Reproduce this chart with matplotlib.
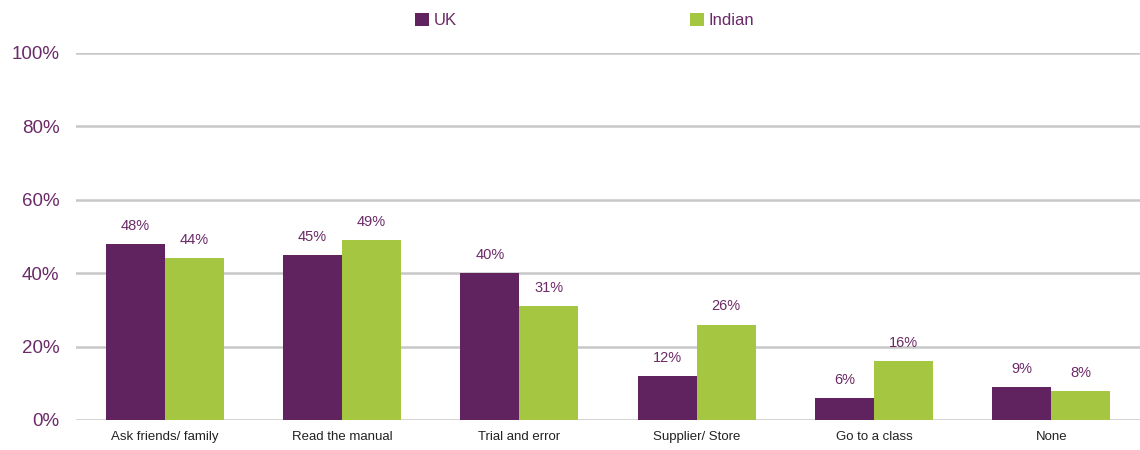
"""plot.py — UK vs Indian grouped bars → out.png"""
import matplotlib
matplotlib.use("Agg")
import matplotlib.pyplot as plt
import numpy as np

categories = ["Ask friends/ family", "Read the manual", "Trial and error",
              "Supplier/ Store", "Go to a class", "None"]
uk = [48, 45, 40, 12, 6, 9]
indian = [44, 49, 31, 26, 16, 8]
yticks = [0, 20, 40, 60, 80, 100]

PURPLE = "#612360"
GREEN = "#A5C640"
TEXT = "#6B2A68"

plt.rcParams["font.family"] = ["Liberation Sans", "DejaVu Sans"]

fig = plt.figure(figsize=(11.4, 4.5), dpi=100)
ax = fig.add_axes([0.0667, 0.0667, 0.9333, 0.8156])

x = np.arange(len(categories))
w = 0.333
b1 = ax.bar(x - w / 2, uk, w, color=PURPLE, label="UK", zorder=3)
b2 = ax.bar(x + w / 2, indian, w, color=GREEN, label="Indian", zorder=3)

for bars, vals in ((b1, uk), (b2, indian)):
    for r, v in zip(bars, vals):
        ax.annotate(f"{v}%", (r.get_x() + r.get_width() / 2, v),
                    xytext=(0, 8), textcoords="offset points",
                    ha="center", va="bottom", fontsize=10.5, color=TEXT)

ax.set_xlim(-0.5, len(categories) - 0.5)
ax.set_ylim(0, 100)
ax.set_yticks(yticks)
ax.set_yticklabels([f"{t}%" for t in yticks], fontsize=13.5, color=TEXT)
ax.set_xticks(x)
ax.set_xticklabels(categories, fontsize=9.5, color="#222222")
ax.tick_params(axis="both", length=0)
ax.tick_params(axis="y", pad=12)
ax.tick_params(axis="x", pad=8)
ax.grid(axis="y", color="#C8C8C8", lw=1.8, zorder=0)
ax.set_axisbelow(True)
for s in ax.spines.values():
    s.set_visible(False)

fig.legend(handles=[b1, b2], loc="upper center", bbox_to_anchor=(0.513, 1.005),
           ncol=2, frameon=False, fontsize=12, columnspacing=14,
           handlelength=0.8, handleheight=0.8, handletextpad=0.3,
           labelcolor=TEXT)

fig.savefig("out.png", dpi=100)
